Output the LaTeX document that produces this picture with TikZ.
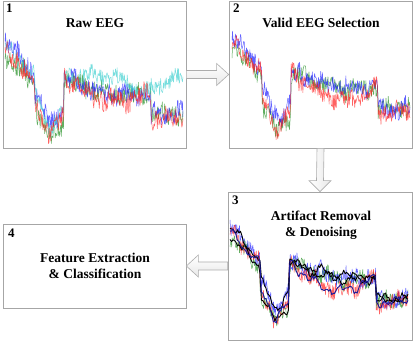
\documentclass[tikz,border=0pt]{standalone}
\usepackage{fontspec}
\setmainfont{Liberation Serif}
\usetikzlibrary{calc}
\definecolor{eblue}{HTML}{2020FF}
\definecolor{ered}{HTML}{FF2020}
\definecolor{egreen}{HTML}{1E8C1E}
\definecolor{ecyan}{HTML}{40D0D0}
\definecolor{enavy}{HTML}{1A1A9A}
\pgfmathdeclarefunction{eegb}{7}{%
  \pgfmathparse{(#1<30)*(40+1.0667*#1+(#2)) + (#1>=30)*(#1<45)*(95+2*(#1-30)+(#3)) + (#1>=45)*(#1<59)*(125-1.2143*(#1-45)+(#3)) + (#1>=59)*(#1<146)*(72+0.1839*(#1-59)+(#4)*sin(2.069*(#1-59))) + (#1>=146)*(110-0.0625*(#1-146)+(#5)+(#6)*(#1-146)/32) + 3*sin(13*#1+(#7)) + 2*sin(31*#1+2*(#7))}%
}
\newcommand\eegtr[4]{%
  \draw[#1] plot[domain=0:178,samples=#4] (\x,{eegb(\x,#3)+#2*rand});
}
\tikzset{
  box/.style={draw=gray!70, line width=0.7pt, fill=white, inner sep=0pt},
  ttl/.style={font=\fontsize{13.5}{16}\selectfont\bfseries, align=center, inner sep=0pt},
  num/.style={font=\fontsize{13}{15}\selectfont\bfseries, inner sep=0pt, anchor=base west},
  trace/.style={line width=0.5pt, opacity=0.7, line join=round},
  smoothtr/.style={line width=0.9pt, line join=round},
  blockarrow/.style={draw=gray!65, line width=0.6pt, top color=white, bottom color=gray!18},
  vblockarrow/.style={draw=gray!65, line width=0.6pt, left color=white, right color=gray!18},
}
\begin{document}
\begin{tikzpicture}[x=1pt,y=-1pt]
\pgfmathsetseed{7}
\fill[white] (0,0) rectangle (415,344);
\useasboundingbox (0,0) rectangle (415,344);

\node[box, minimum width=183pt, minimum height=147pt] (b1) at (94.5,74.5) {};
\node[box, minimum width=183pt, minimum height=147pt] (b2) at (320.5,74.5) {};
\node[box, minimum width=184pt, minimum height=148pt] (b3) at (320,266) {};
\node[box, minimum width=183pt, minimum height=84pt] (b4) at (94.5,266) {};

% box 1 traces
\begin{scope}
\clip (b1.north west) rectangle (b1.south east);
\begin{scope}[shift={(5,5)}]
\eegtr{trace,egreen}{10}{8,8,8,0,0,40}{320}
\eegtr{trace,eblue}{10}{-3,-6,8,0,0,130}{320}
\eegtr{trace,ecyan}{8}{0,-3,-8,-26,-12,220}{320}
\eegtr{trace,ered}{10}{3,4,15,4,0,300}{320}
\end{scope}
\end{scope}

% box 2 traces
\begin{scope}
\clip (b2.north west) rectangle (b2.south east);
\begin{scope}[shift={(232,0)}]
\eegtr{trace,egreen}{9}{6,7,8,0,0,70}{320}
\eegtr{trace,eblue}{9}{-3,-6,5,0,0,160}{320}
\eegtr{trace,ered}{9}{2,4,19,3,0,250}{320}
\end{scope}
\end{scope}

% box 3 traces
\begin{scope}
\clip (b3.north west) rectangle (b3.south east);
\begin{scope}[shift={(230,190)}]
\eegtr{trace,egreen}{8}{6,7,8,0,0,70}{320}
\eegtr{trace,eblue}{8}{-3,-6,5,0,0,160}{320}
\eegtr{trace,ered}{8}{2,4,19,3,0,250}{320}
\eegtr{smoothtr,black}{2.5}{6,7,8,0,0,70}{120}
\eegtr{smoothtr,black}{2.5}{-3,-6,3,0,0,160}{120}
\eegtr{smoothtr,enavy}{2.5}{2,4,19,3,0,250}{120}
\end{scope}
\end{scope}

% titles and numbers
\node[ttl, anchor=base] (t1) at (95,28) {Raw EEG};
\node[ttl, anchor=base] (t2) at (321,28) {Valid EEG Selection};
\node[ttl] (t3) at (321,225) {Artifact Removal\\ \& Denoising};
\node[ttl] (t4) at (95,266) {Feature Extraction\\ \& Classification};
\node[num] (n1) at (6,13) {1};
\node[num] (n2) at (233,13) {2};
\node[num] (n3) at (232,205) {3};
\node[num] (n4) at (8,238) {4};

% block arrows
\draw[blockarrow] ($(b1.east)+(0,-4)$) -- ($(b2.west)+(-12,-4)$) -- ($(b2.west)+(-12,-11)$) -- (b2.west) -- ($(b2.west)+(-12,11)$) -- ($(b2.west)+(-12,4)$) -- ($(b1.east)+(0,4)$) -- cycle;
\draw[vblockarrow] ($(b2.south)+(-3.5,0)$) -- ($(b3.north)+(-3.5,-11)$) -- ($(b3.north)+(-11,-11)$) -- (b3.north) -- ($(b3.north)+(11,-11)$) -- ($(b3.north)+(3.5,-11)$) -- ($(b2.south)+(3.5,0)$) -- cycle;
\draw[blockarrow] ($(b3.west)+(0,-4)$) -- ($(b4.east)+(12,-4)$) -- ($(b4.east)+(12,-11)$) -- (b4.east) -- ($(b4.east)+(12,11)$) -- ($(b4.east)+(12,4)$) -- ($(b3.west)+(0,4)$) -- cycle;
\end{tikzpicture}
\end{document}
